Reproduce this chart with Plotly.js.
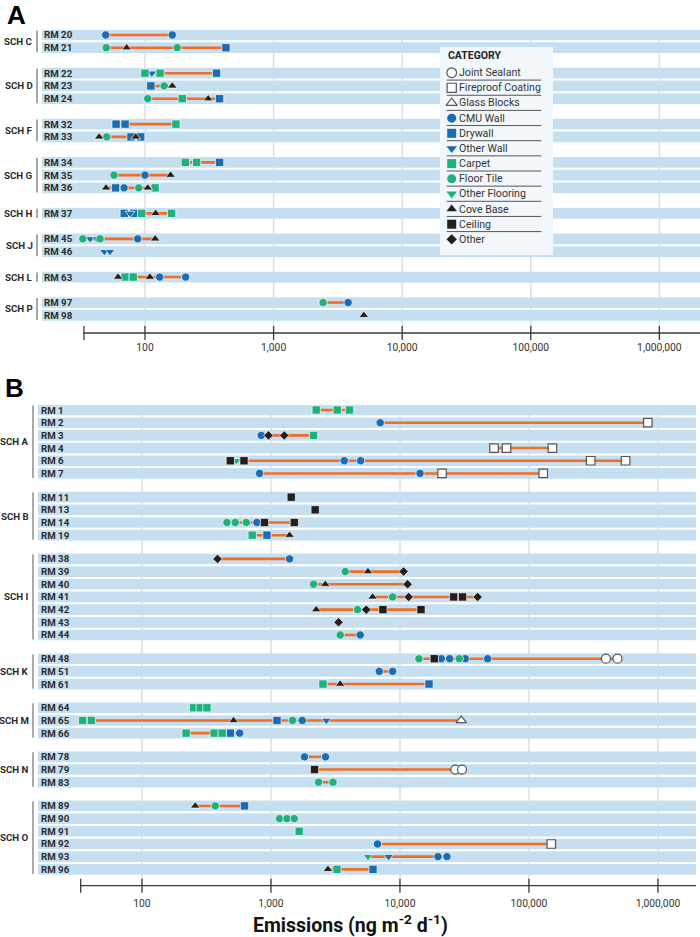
<!DOCTYPE html>
<html>
<head>
<meta charset="utf-8">
<script src="https://cdn.plot.ly/plotly-3.0.1.min.js"></script>
<style>
  html, body { margin: 0; padding: 0; background: #fff; }
  #chart { width: 700px; height: 937px; }
</style>
</head>
<body>
<div id="chart"></div>
<script>
// ---- Categories (legend order) ----
const categories = ['Joint Sealant', 'Fireproof Coating', 'Glass Blocks', 'CMU Wall', 'Drywall', 'Other Wall',
                    'Carpet', 'Floor Tile', 'Other Flooring', 'Cove Base', 'Ceiling', 'Other'];

// ---- Tick labels ----
const tickValues = [100, 1000, 10000, 100000, 1000000];
const tickLabels = ['100', '1,000', '10,000', '100,000', '1,000,000'];

// ---- Panel A: rooms, schools, and measured emissions per room ----
const roomsA   = ['RM 20', 'RM 21', 'RM 22', 'RM 23', 'RM 24', 'RM 32', 'RM 33', 'RM 34', 'RM 35', 'RM 36',
                  'RM 37', 'RM 45', 'RM 46', 'RM 63', 'RM 97', 'RM 98'];
const schoolsA = ['SCH C', 'SCH C', 'SCH D', 'SCH D', 'SCH D', 'SCH F', 'SCH F', 'SCH G', 'SCH G', 'SCH G',
                  'SCH H', 'SCH J', 'SCH J', 'SCH L', 'SCH P', 'SCH P'];
const catsA = [
  ['CMU Wall', 'CMU Wall'],
  ['Floor Tile', 'Cove Base', 'Floor Tile', 'Drywall'],
  ['Carpet', 'Other Wall', 'Carpet', 'Drywall'],
  ['Drywall', 'Floor Tile', 'Cove Base'],
  ['Floor Tile', 'Carpet', 'Cove Base', 'Drywall'],
  ['Drywall', 'Drywall', 'Carpet'],
  ['Cove Base', 'Floor Tile', 'Drywall', 'Cove Base', 'Drywall'],
  ['Carpet', 'Carpet', 'Drywall'],
  ['Floor Tile', 'CMU Wall', 'Cove Base'],
  ['Cove Base', 'Drywall', 'CMU Wall', 'Floor Tile', 'Cove Base', 'Carpet'],
  ['Drywall', 'Other Wall', 'Drywall', 'Carpet', 'Cove Base', 'Carpet'],
  ['Floor Tile', 'Other Wall', 'Other Wall', 'Floor Tile', 'CMU Wall', 'Cove Base'],
  ['Other Wall', 'Other Wall'],
  ['Cove Base', 'Carpet', 'Carpet', 'Cove Base', 'CMU Wall', 'CMU Wall'],
  ['Floor Tile', 'CMU Wall'],
  ['Cove Base']
];
const valsA = [
  [49.5, 163],
  [50, 72, 178, 426],
  [100, 113, 131, 360],
  [111, 141, 163],
  [105, 195, 310, 380],
  [59.6, 70, 174],
  [44, 50.4, 77.8, 84.7, 92.6],
  [206, 252, 380],
  [57.4, 100, 158],
  [49.8, 59, 68.7, 89.3, 105, 120],
  [69, 76.5, 81.5, 94.3, 121, 161],
  [32.8, 37.4, 42.2, 44.7, 87.8, 120],
  [48.3, 53.5],
  [61.7, 70, 81, 109, 130, 207],
  [2427, 3800],
  [5035]
];

// ---- Panel B: rooms, schools, and measured emissions per room ----
const roomsB   = ['RM 1', 'RM 2', 'RM 3', 'RM 4', 'RM 6', 'RM 7', 'RM 11', 'RM 13', 'RM 14', 'RM 19',
                  'RM 38', 'RM 39', 'RM 40', 'RM 41', 'RM 42', 'RM 43', 'RM 44', 'RM 48', 'RM 51', 'RM 61',
                  'RM 64', 'RM 65', 'RM 66', 'RM 78', 'RM 79', 'RM 83', 'RM 89', 'RM 90', 'RM 91', 'RM 92',
                  'RM 93', 'RM 96'];
const schoolsB = ['SCH A', 'SCH A', 'SCH A', 'SCH A', 'SCH A', 'SCH A', 'SCH B', 'SCH B', 'SCH B', 'SCH B',
                  'SCH I', 'SCH I', 'SCH I', 'SCH I', 'SCH I', 'SCH I', 'SCH I', 'SCH K', 'SCH K', 'SCH K',
                  'SCH M', 'SCH M', 'SCH M', 'SCH N', 'SCH N', 'SCH N', 'SCH O', 'SCH O', 'SCH O', 'SCH O',
                  'SCH O', 'SCH O'];
const catsB = [
  ['Carpet', 'Carpet', 'Carpet'],
  ['CMU Wall', 'Fireproof Coating'],
  ['CMU Wall', 'Other', 'Other', 'Carpet'],
  ['Fireproof Coating', 'Fireproof Coating', 'Fireproof Coating'],
  ['Ceiling', 'Other Flooring', 'Ceiling', 'CMU Wall', 'CMU Wall', 'Fireproof Coating', 'Fireproof Coating'],
  ['CMU Wall', 'CMU Wall', 'Fireproof Coating', 'Fireproof Coating'],
  ['Ceiling'],
  ['Ceiling'],
  ['Floor Tile', 'Floor Tile', 'Floor Tile', 'CMU Wall', 'Ceiling', 'Ceiling'],
  ['Carpet', 'Drywall', 'Cove Base'],
  ['Other', 'CMU Wall'],
  ['Floor Tile', 'Cove Base', 'Other'],
  ['Floor Tile', 'Cove Base', 'Other'],
  ['Cove Base', 'Floor Tile', 'Other', 'Ceiling', 'Ceiling', 'Other'],
  ['Cove Base', 'Floor Tile', 'Other', 'Ceiling', 'Ceiling'],
  ['Other'],
  ['Floor Tile', 'CMU Wall'],
  ['Floor Tile', 'Ceiling', 'CMU Wall', 'CMU Wall', 'Floor Tile', 'CMU Wall', 'CMU Wall', 'Joint Sealant', 'Joint Sealant'],
  ['CMU Wall', 'CMU Wall'],
  ['Carpet', 'Cove Base', 'Drywall'],
  ['Carpet', 'Carpet', 'Carpet'],
  ['Carpet', 'Carpet', 'Cove Base', 'Drywall', 'Floor Tile', 'CMU Wall', 'Other Wall', 'Glass Blocks'],
  ['Carpet', 'Carpet', 'Carpet', 'Drywall', 'CMU Wall'],
  ['CMU Wall', 'CMU Wall'],
  ['Ceiling', 'Joint Sealant', 'Joint Sealant'],
  ['Floor Tile', 'Floor Tile'],
  ['Cove Base', 'Floor Tile', 'Drywall'],
  ['Floor Tile', 'Floor Tile', 'Floor Tile'],
  ['Carpet'],
  ['CMU Wall', 'Fireproof Coating'],
  ['Other Flooring', 'Other Wall', 'CMU Wall', 'CMU Wall'],
  ['Cove Base', 'Carpet', 'Drywall']
];
const valsB = [
  [2244, 3265, 4066],
  [7030, 835000],
  [841, 957, 1267, 2139],
  [53600, 67000, 152000],
  [484, 539, 618, 3700, 4956, 300900, 561000],
  [816, 14300, 21200, 129000],
  [1436],
  [2203],
  [456, 529, 644, 778, 891, 1517],
  [716, 931, 1394],
  [385, 1394],
  [3767, 5650, 10670],
  [2139, 2635, 11460],
  [6140, 8770, 11670, 26070, 30570, 40000],
  [2244, 4690, 5480, 7380, 14560],
  [3342],
  [3443, 4920],
  [14030, 18450, 20900, 24260, 28840, 32100, 47800, 395000, 486000],
  [6920, 8770],
  [2530, 3440, 16800],
  [251, 283, 319],
  [34.7, 40.5, 513, 1114, 1469, 1749, 2687, 29860],
  [220, 363, 419, 484, 572],
  [1820, 2650],
  [2178, 26850, 30260],
  [2339, 3027],
  [259, 370, 624],
  [1166, 1330, 1517],
  [1656],
  [6700, 149000],
  [5650, 8170, 19720, 23140],
  [2765, 3250, 6180]
];

// ---- Styling ----
const BLUE = '#1a6db4', GREEN = '#1fb07f', BLACK = '#231f20', OUTLINE = '#555555';
const BAND = '#c5dff0', RANGE_LINE = '#f26c22', GRID = '#dedede', FONT = 'Roboto, sans-serif';
const catStyle = {
  'Joint Sealant':     { symbol: 'circle',        color: '#ffffff', size: 9,   line: OUTLINE },
  'Fireproof Coating': { symbol: 'square',        color: '#ffffff', size: 8.5, line: OUTLINE },
  'Glass Blocks':      { symbol: 'triangle-up',   color: '#ffffff', size: 9,   line: OUTLINE },
  'CMU Wall':          { symbol: 'circle',        color: BLUE,      size: 8.3 },
  'Drywall':           { symbol: 'square',        color: BLUE,      size: 8.3 },
  'Other Wall':        { symbol: 'triangle-down', color: BLUE,      size: 8.5 },
  'Carpet':            { symbol: 'square',        color: GREEN,     size: 8.3 },
  'Floor Tile':        { symbol: 'circle',        color: GREEN,     size: 8.3 },
  'Other Flooring':    { symbol: 'triangle-down', color: GREEN,     size: 8.5 },
  'Cove Base':         { symbol: 'triangle-up',   color: BLACK,     size: 8.5 },
  'Ceiling':           { symbol: 'square',        color: BLACK,     size: 8.3 },
  'Other':             { symbol: 'diamond',       color: BLACK,     size: 7.3 }
};
function markerLine(st) {
  return st.line ? { color: st.line, width: 1.2 } : { color: '#ffffff', width: 0.7 };
}

// Row slots: one unit per room, a wider step between schools
function rowPositions(schools, gap) {
  const pos = [];
  let p = 0;
  schools.forEach((s, i) => {
    if (i > 0) p += (s === schools[i - 1]) ? 1 : gap;
    pos.push(p);
  });
  return pos;
}

const AXIS_START = 33.5;          // left end of the drawn axis line
const BAND_HALF = 0.42;

const panels = [
  { rooms: roomsA, schools: schoolsA, cats: catsA, vals: valsA, gap: 2.0,
    xa: 'x', ya: 'y', xRange: [1.199, 6.316], xDom: [42 / 700, 1],
    yDom: [1 - 333 / 937, 1 - 29.5 / 937], yPad: [1.39, 0.43], standoff: 7,
    labelX: 42 / 700, groupX: 35 / 700, bracketX: 37 / 700, bracketColor: '#8a8a8a', bracketW: 1.5 },
  { rooms: roomsB, schools: schoolsB, cats: catsB, vals: valsB, gap: 1.87,
    xa: 'x2', ya: 'y2', xRange: [1.194, 6.295], xDom: [38 / 700, 696 / 700],
    yDom: [1 - 885.7 / 937, 1 - 404.7 / 937], yPad: [1.29, 0.42], standoff: 10,
    labelX: 38.5 / 700, groupX: 31 / 700, bracketX: 33 / 700, bracketColor: '#ababab', bracketW: 2 }
];

const traces = [];
const shapes = [];
const annotations = [];
const layout = {
  width: 700, height: 937,
  margin: { l: 0, r: 0, t: 0, b: 0 },
  paper_bgcolor: '#ffffff', plot_bgcolor: 'rgba(0,0,0,0)',
  showlegend: false, hovermode: false,
  font: { family: FONT, color: '#333' }
};

panels.forEach((P, pi) => {
  const pos = rowPositions(P.schools, P.gap);
  const last = pos[pos.length - 1];
  const axSuffix = pi === 0 ? '' : '2';
  const xRef = P.xa, yRef = P.ya;
  const yTop = -P.yPad[1], yBottom = last + P.yPad[0];
  const xLo = Math.pow(10, P.xRange[0]), xHi = Math.pow(10, P.xRange[1]);

  layout['xaxis' + axSuffix] = {
    type: 'log', domain: P.xDom, range: P.xRange, anchor: yRef,
    tickvals: tickValues, ticktext: tickLabels, ticks: '', showline: false,
    showgrid: false, zeroline: false,
    tickfont: { family: FONT, size: 10.3, color: '#333' }, ticklabelstandoff: P.standoff, fixedrange: true
  };
  layout['yaxis' + axSuffix] = {
    domain: P.yDom, range: [yBottom, yTop], anchor: xRef,
    showgrid: false, zeroline: false, showticklabels: false, ticks: '', fixedrange: true
  };

  // Vertical gridlines at the decades (drawn first so the bands sit on top)
  tickValues.forEach(t => {
    shapes.push({ type: 'line', layer: 'below', xref: xRef, yref: yRef,
      x0: t, x1: t, y0: yTop, y1: yBottom, line: { color: GRID, width: 1.5 } });
  });

  // Room bands and labels
  P.rooms.forEach((room, i) => {
    shapes.push({ type: 'rect', layer: 'below', xref: xRef, yref: yRef,
      x0: xLo / 2, x1: xHi * 2, y0: pos[i] - BAND_HALF, y1: pos[i] + BAND_HALF,
      fillcolor: BAND, line: { width: 0 } });
    annotations.push({ xref: 'paper', yref: yRef, x: P.labelX, y: pos[i], xanchor: 'left', yanchor: 'middle',
      text: '<b>' + room + '</b>', showarrow: false, font: { family: FONT, size: 9.7, color: '#2a2a2a' } });
  });

  // School labels with brackets
  const schoolNames = [...new Set(P.schools)];
  schoolNames.forEach(s => {
    const idx = P.schools.map((v, i) => v === s ? i : -1).filter(i => i >= 0);
    const y0 = pos[idx[0]], y1 = pos[idx[idx.length - 1]];
    annotations.push({ xref: 'paper', yref: yRef, x: P.groupX, y: (y0 + y1) / 2, xanchor: 'right', yanchor: 'middle',
      text: '<b>' + s + '</b>', showarrow: false, font: { family: FONT, size: 9.7, color: '#2a2a2a' } });
    shapes.push({ type: 'line', layer: 'above', xref: 'paper', yref: yRef,
      x0: P.bracketX, x1: P.bracketX, y0: y0 - 0.36, y1: y1 + 0.36,
      line: { color: P.bracketColor, width: P.bracketW } });
  });

  // Range line per room: lowest to highest measurement
  const lx = [], ly = [];
  P.vals.forEach((v, i) => {
    if (v.length > 1) {
      lx.push(Math.min(...v), Math.max(...v), null);
      ly.push(pos[i], pos[i], null);
    }
  });
  traces.push({ type: 'scatter', mode: 'lines', x: lx, y: ly, xaxis: xRef, yaxis: yRef,
    line: { color: RANGE_LINE, width: 2.6 }, connectgaps: false, hoverinfo: 'skip' });

  // Measurements, one trace per category
  categories.forEach(cat => {
    const mx = [], my = [];
    P.cats.forEach((row, i) => row.forEach((c, j) => {
      if (c === cat) { mx.push(P.vals[i][j]); my.push(pos[i]); }
    }));
    if (!mx.length) return;
    const st = catStyle[cat];
    traces.push({ type: 'scatter', mode: 'markers', x: mx, y: my, xaxis: xRef, yaxis: yRef, name: cat,
      cliponaxis: false,
      marker: { symbol: st.symbol, size: st.size, color: st.color, line: markerLine(st) } });
  });

  // Axis line from its start value to the right edge, with crossing ticks
  shapes.push({ type: 'line', layer: 'above', xref: xRef, yref: yRef + ' domain',
    x0: AXIS_START, x1: xHi, y0: 0, y1: 0,
    line: { color: '#3a3a3a', width: 1.3 } });
  [AXIS_START].concat(tickValues).forEach(t => {
    shapes.push({ type: 'line', layer: 'above', xref: xRef, yref: yRef + ' domain',
      ysizemode: 'pixel', yanchor: 0, x0: t, x1: t, y0: -7, y1: 7,
      line: { color: '#3a3a3a', width: 1.3 } });
  });
});

// ---- Category key (panel A) ----
const keyTop = 46.7, keyBottom = 255, keyLeft = 440, keyRight = 553;
layout.xaxis3 = { domain: [keyLeft / 700, keyRight / 700], range: [keyLeft, keyRight], anchor: 'y3',
  visible: false, fixedrange: true };
layout.yaxis3 = { domain: [1 - keyBottom / 937, 1 - keyTop / 937], range: [keyBottom, keyTop], anchor: 'x3',
  visible: false, fixedrange: true };
shapes.push({ type: 'rect', layer: 'below', xref: 'x3', yref: 'y3',
  x0: keyLeft, x1: keyRight, y0: keyTop, y1: keyBottom, fillcolor: '#f2f7fb', line: { width: 0 } });
annotations.push({ xref: 'x3', yref: 'y3', x: 445.5, y: 55.5, xanchor: 'left', yanchor: 'middle',
  text: '<b>CATEGORY</b>', showarrow: false, font: { family: FONT, size: 10.5, color: '#222' } });
const keyY = categories.map((c, i) => 72.7 + i * 15.15);
categories.forEach((cat, i) => {
  const st = catStyle[cat];
  traces.push({ type: 'scatter', mode: 'markers', x: [451.7], y: [keyY[i]], xaxis: 'x3', yaxis: 'y3',
    cliponaxis: false, hoverinfo: 'skip',
    marker: { symbol: st.symbol, size: st.size + 0.7, color: st.color,
              line: st.line ? { color: st.line, width: 1.2 } : { width: 0 } } });
  annotations.push({ xref: 'x3', yref: 'y3', x: 456.5, y: keyY[i], xanchor: 'left', yanchor: 'middle',
    text: cat, showarrow: false, font: { family: FONT, size: 10.6, color: '#333' } });
  if (i < categories.length - 1) {
    shapes.push({ type: 'line', layer: 'above', xref: 'x3', yref: 'y3',
      x0: 446.7, x1: 541.3, y0: keyY[i] + 7.4, y1: keyY[i] + 7.4, line: { color: '#555', width: 1 } });
  }
});

// ---- Panel letters and shared axis title ----
annotations.push({ xref: 'paper', yref: 'paper', x: 16.5 / 700, y: 1 - 15 / 937, xanchor: 'center', yanchor: 'middle',
  text: '<b>A</b>', showarrow: false, font: { family: 'Liberation Sans, Arial, sans-serif', size: 26, color: '#000' } });
annotations.push({ xref: 'paper', yref: 'paper', x: 14.5 / 700, y: 1 - 388 / 937, xanchor: 'center', yanchor: 'middle',
  text: '<b>B</b>', showarrow: false, font: { family: 'Liberation Sans, Arial, sans-serif', size: 26, color: '#000' } });
annotations.push({ xref: 'paper', yref: 'paper', x: 350.5 / 700, y: 1 - 924 / 937, xanchor: 'center', yanchor: 'middle',
  text: '<b>Emissions (ng m<sup>-2</sup> d<sup>-1</sup>)</b>', showarrow: false,
  font: { family: FONT, size: 19.5, color: '#111' } });

layout.shapes = shapes;
layout.annotations = annotations;

Plotly.newPlot('chart', traces, layout, { displayModeBar: false, staticPlot: true });
</script>
</body>
</html>
